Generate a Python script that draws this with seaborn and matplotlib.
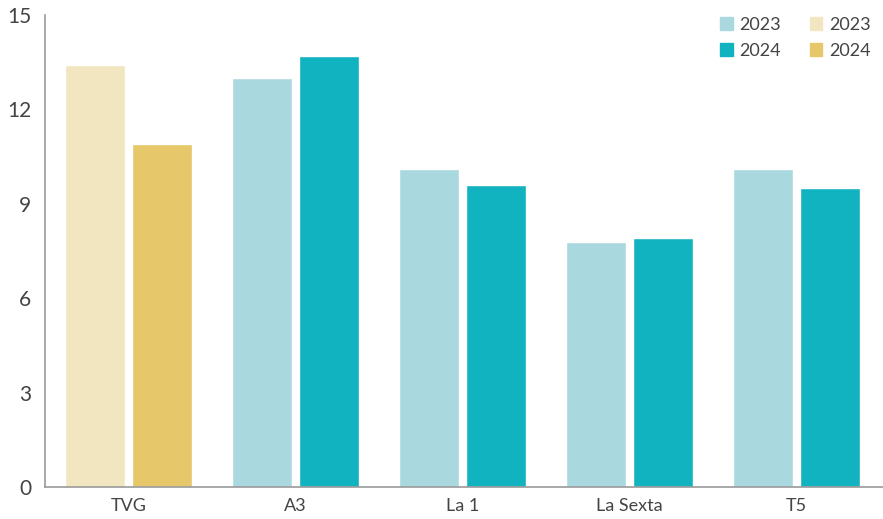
import pandas as pd
import seaborn as sns
import matplotlib.pyplot as plt
from matplotlib.patches import Patch

# data
channels = ["TVG", "A3", "La 1", "La Sexta", "T5"]
years = ["2023", "2024"]
share_2023 = [13.4, 13.0, 10.1, 7.8, 10.1]
share_2024 = [10.9, 13.7, 9.6, 7.9, 9.5]
yticks = [0, 3, 6, 9, 12, 15]

teal = {"2023": "#AAD8DF", "2024": "#12B3C0"}
gold = {"2023": "#F2E6C0", "2024": "#E6C76A"}

df = pd.DataFrame({
    "canal": channels * 2,
    "year": ["2023"] * len(channels) + ["2024"] * len(channels),
    "share": share_2023 + share_2024,
})
tvg = df[df["canal"] == "TVG"]
rest = df[df["canal"] != "TVG"]

sns.set_style("white")
plt.rcParams["font.family"] = ["Lato", "DejaVu Sans"]

fig = plt.figure(figsize=(8.83, 5.19), dpi=100)
ax = fig.add_axes([45 / 883, 32 / 519, 838 / 883, 472 / 519])

sns.barplot(data=rest, x="canal", y="share", hue="year", order=channels,
            hue_order=years, palette=teal, width=0.8, gap=0.1,
            saturation=1, legend=False, ax=ax)
sns.barplot(data=tvg, x="canal", y="share", hue="year", order=channels,
            hue_order=years, palette=gold, width=0.8, gap=0.1,
            saturation=1, legend=False, ax=ax)

ax.set_xlim(-0.5, 4.52)
ax.set_ylim(0, 15)
ax.set_yticks(yticks)
ax.set_xlabel("")
ax.set_ylabel("")
sns.despine(ax=ax, top=True, right=True)
for side in ["left", "bottom"]:
    ax.spines[side].set_color("#9a9a9a")
    ax.spines[side].set_linewidth(1.2)
ax.tick_params(axis="y", direction="in", length=20, width=1.2, color="#9a9a9a",
               labelsize=15, labelcolor="#444444", pad=10)
ax.tick_params(axis="x", length=0, labelsize=13, labelcolor="#444444", pad=8)

handles = [Patch(color=teal["2023"]), Patch(color=teal["2024"]),
           Patch(color=gold["2023"]), Patch(color=gold["2024"])]
labels = ["2023", "2024", "2023", "2024"]
fig.legend(handles, labels, ncol=2, frameon=False, fontsize=13,
           labelcolor="#444444", loc="upper right",
           bbox_to_anchor=(1.0, 1 - 4 / 519), borderpad=0.2,
           handlelength=0.7, handleheight=0.7, handletextpad=0.35,
           columnspacing=1.6, labelspacing=0.55)

fig.savefig("out.png", dpi=100)
